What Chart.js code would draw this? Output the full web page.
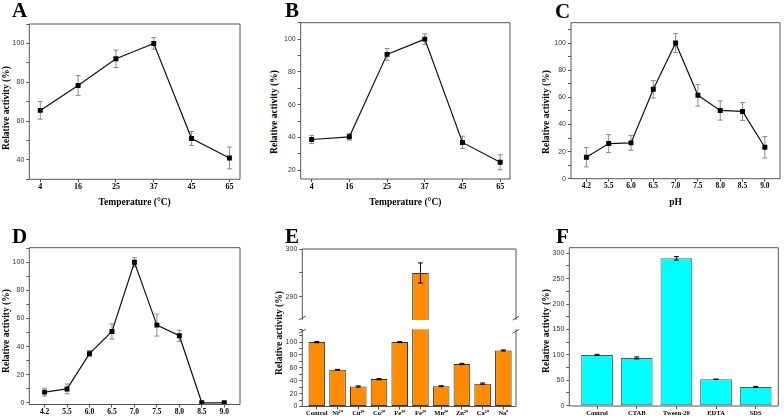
<!DOCTYPE html>
<html>
<head>
<meta charset="utf-8">
<script src="https://cdn.jsdelivr.net/npm/chart.js@4.4.0/dist/chart.umd.min.js"></script>
<style>
    html, body { margin: 0; padding: 0; background: #fff; overflow: hidden; }
    #page { position: relative; width: 784px; height: 419px; }
    canvas { position: absolute; }
    .tag { position: absolute; font: bold 21px "Liberation Serif", serif; line-height: 20px; color: #000; }
    .ytitle { position: absolute; font: bold 9.5px "Liberation Serif", serif; white-space: nowrap; color: #000;
              transform: translate(-50%, -50%) rotate(-90deg); }
</style>
</head>
<body>
<div id="page">
    <canvas id="chart-a"></canvas>
    <canvas id="chart-b"></canvas>
    <canvas id="chart-c"></canvas>
    <canvas id="chart-d"></canvas>
    <canvas id="chart-e-top"></canvas>
    <canvas id="chart-e"></canvas>
    <canvas id="chart-f"></canvas>

    <div class="tag" style="left:12px; top:0px;">A</div>
    <div class="tag" style="left:285px; top:0px;">B</div>
    <div class="tag" style="left:555px; top:1px;">C</div>
    <div class="tag" style="left:12px; top:226px;">D</div>
    <div class="tag" style="left:285px; top:226px;">E</div>
    <div class="tag" style="left:556px; top:226px;">F</div>

    <div class="ytitle" style="left:6px; top:108px;">Relative activity (%)</div>
    <div class="ytitle" style="left:274px; top:112px;">Relative activity (%)</div>
    <div class="ytitle" style="left:546px; top:112px;">Relative activity (%)</div>
    <div class="ytitle" style="left:6px; top:331px;">Relative activity (%)</div>
    <div class="ytitle" style="left:279px; top:333px;">Relative activity (%)</div>
    <div class="ytitle" style="left:546px; top:331px;">Relative activity (%)</div>
</div>

<script>
// A - temperature
const tempLabels = ['4', '16', '25', '37', '45', '65'];
const tempActivity = [65.5, 78.3, 92.1, 100, 51, 41];
const tempActivityErr = [4.5, 5.1, 4.5, 3, 3.6, 5.6];
// B - temperature stability
const tempStability = [38.8, 40.4, 90.7, 100, 37, 24.9];
const tempStabilityErr = [2.5, 2, 3.6, 3.2, 3.8, 4.6];
// C - pH
const phLabels = ['4.2', '5.5', '6.0', '6.5', '7.0', '7.5', '8.0', '8.5', '9.0'];
const phActivity = [15.8, 25.9, 26.4, 65.9, 100, 61.5, 50.3, 49.6, 23.2];
const phActivityErr = [7.1, 6.6, 5.5, 6.4, 7, 8, 7.1, 6.6, 7.9];
// D - pH stability
const phStability = [7.6, 9.9, 35, 50.8, 100, 55.3, 47.7, 0, 0];
const phStabilityErr = [2.8, 3.5, 2.2, 5.4, 3.3, 7.8, 4, 0.5, 0.5];
// E - metal ions
const ionLabels = ['Control', 'Ni²⁺', 'Cu²⁺', 'Co²⁺', 'Fe³⁺', 'Fe²⁺', 'Mn²⁺', 'Zn²⁺', 'Ca²⁺', 'Na⁺'];
const ionActivity = [100, 57, 31, 42.5, 100, 295, 31.5, 66, 35.5, 87];
const ionErr = [1, 0.6, 1, 1, 0.8, 2.1, 0.8, 1, 1, 0.8];
// F - surfactants / inhibitors
const agentLabels = ['Control', 'CTAB', 'Tween-20', 'EDTA', 'SDS'];
const agentActivity = [100, 94, 290, 52, 37];
const agentErr = [1.2, 2, 3.5, 0.5, 1];

// y tick labels
const ticksA = [40, 60, 80, 100];
const ticksB = [20, 40, 60, 80, 100];
const ticksPH = [0, 20, 40, 60, 80, 100];
const ticksETop = [290, 300];
const ticksE = [0, 20, 40, 60, 80, 100];
const ticksF = [0, 50, 100, 150, 200, 250, 300];

const SERIF = '"Liberation Serif", "Times New Roman", serif';
const SANS = '"Liberation Sans", Arial, sans-serif';
const AXIS = '#555';

// outline around the plot area (Origin style box)
const framePlugin = {
    id: 'frame',
    afterDraw(chart, args, o) {
        const { ctx, chartArea: a } = chart;
        const sides = o.sides || 'tlbr';
        ctx.save();
        ctx.strokeStyle = AXIS;
        ctx.lineWidth = 1;
        ctx.beginPath();
        if (sides.includes('t')) { ctx.moveTo(a.left, a.top); ctx.lineTo(a.right, a.top); }
        if (sides.includes('b')) { ctx.moveTo(a.left, a.bottom); ctx.lineTo(a.right, a.bottom); }
        if (sides.includes('l')) { ctx.moveTo(a.left, a.top); ctx.lineTo(a.left, a.bottom); }
        if (sides.includes('r')) { ctx.moveTo(a.right, a.top); ctx.lineTo(a.right, a.bottom); }
        ctx.stroke();
        if (o.breakAt) {
            const y = o.breakAt === 'bottom' ? a.bottom - 2 : a.top + 2;
            ctx.beginPath();
            [a.left, a.right].forEach(x => {
                ctx.moveTo(x - 3.5, y + 2);
                ctx.lineTo(x + 3.5, y - 2);
            });
            ctx.stroke();
        }
        ctx.restore();
    }
};

function drawErrors(chart, o) {
    const { ctx, chartArea: a, scales: { y } } = chart;
    chart.data.datasets.forEach((ds, di) => {
        if (!ds.errors) return;
        const meta = chart.getDatasetMeta(di);
        ctx.save();
        ctx.beginPath();
        ctx.rect(a.left, a.top - 1, a.right - a.left, a.bottom - a.top + 2);
        ctx.clip();
        ctx.strokeStyle = o.color;
        ctx.lineWidth = 1;
        meta.data.forEach((el, i) => {
            const v = ds.data[i].y;
            const e = ds.errors[i];
            const y1 = y.getPixelForValue(v + e);
            const y2 = y.getPixelForValue(v - e);
            ctx.beginPath();
            ctx.moveTo(el.x, y1); ctx.lineTo(el.x, y2);
            ctx.moveTo(el.x - o.cap, y1); ctx.lineTo(el.x + o.cap, y1);
            ctx.moveTo(el.x - o.cap, y2); ctx.lineTo(el.x + o.cap, y2);
            ctx.stroke();
        });
        ctx.restore();
    });
}

const errorBarPlugin = {
    id: 'errorBars',
    beforeDatasetsDraw(chart, args, o) { if (!o.over) drawErrors(chart, o); },
    afterDatasetsDraw(chart, args, o) { if (o.over) drawErrors(chart, o); }
};

// size a canvas so that its plot area lands on box
function place(id, box, ext, xShow) {
    const c = document.getElementById(id);
    const left = Math.floor(box.l - ext.l);
    const top = Math.floor(box.t - ext.t);
    const right = Math.ceil(box.r + ext.r);
    const bottom = Math.ceil(box.b + ext.b);
    c.width = right - left;
    c.height = bottom - top;
    c.style.left = left + 'px';
    c.style.top = top + 'px';
    return {
        ctx: c.getContext('2d'),
        yW: box.l - left,
        xH: bottom - box.b,
        pad: { top: box.t - top, right: right - box.r, bottom: xShow === false ? bottom - box.b : 0, left: 0 }
    };
}

// minor ticks every step inside the axis range, labels only on the listed values
function stepTicks(min, max, step) {
    const out = [];
    for (let v = Math.ceil(min / step) * step; v <= max + 1e-9; v += step) {
        out.push({ value: Math.round(v * 1000) / 1000 });
    }
    return out;
}

function buildScales(fit, cfg) {
    return {
        x: {
            type: 'linear', bounds: 'data', offset: false,
            min: cfg.xMin, max: cfg.xMax,
            display: cfg.xShow !== false,
            afterBuildTicks: s => { s.ticks = cfg.labels.map((_, i) => ({ value: i })); },
            afterFit: s => { s.height = fit.xH; },
            grid: { offset: false, drawOnChartArea: false, tickLength: 3, color: AXIS },
            border: { display: false },
            ticks: {
                padding: 0, autoSkip: false, maxRotation: 0, color: '#000',
                font: { family: SERIF, weight: 'bold', size: cfg.xFont },
                callback: v => cfg.labels[v]
            },
            title: {
                display: !!cfg.xTitle, text: cfg.xTitle, padding: 0, color: '#000',
                font: { family: SERIF, weight: 'bold', size: 9.5 }
            }
        },
        y: {
            type: 'linear', bounds: 'data', beginAtZero: false,
            min: cfg.yMin, max: cfg.yMax,
            afterBuildTicks: s => { s.ticks = stepTicks(cfg.yMin, cfg.yMax, cfg.yStep); },
            afterFit: s => { s.width = fit.yW; },
            grid: { drawOnChartArea: false, tickLength: 3, color: AXIS },
            border: { display: false },
            ticks: {
                autoSkip: false, padding: 2, color: '#333',
                font: { family: SANS, size: 7 },
                callback: v => cfg.yTicks.includes(v) ? v : ''
            }
        }
    };
}

function lineChart(id, box, ext, cfg) {
    const fit = place(id, box, ext, cfg.xShow);
    return new Chart(fit.ctx, {
        type: 'line',
        data: {
            datasets: [{
                data: cfg.values.map((y, x) => ({ x, y })),
                errors: cfg.errors,
                borderColor: '#111',
                borderWidth: 1.2,
                tension: 0,
                pointStyle: 'rect',
                pointRadius: 3.5,
                pointBorderWidth: 0,
                pointBackgroundColor: '#000'
            }]
        },
        options: {
            responsive: false,
            animation: false,
            devicePixelRatio: 1,
            layout: { padding: fit.pad },
            plugins: {
                legend: { display: false },
                tooltip: { enabled: false },
                errorBars: { color: '#8a8a8a', cap: 2.5, over: false },
                frame: {}
            },
            scales: buildScales(fit, cfg)
        },
        plugins: [errorBarPlugin, framePlugin]
    });
}

function barChart(id, box, ext, cfg) {
    const fit = place(id, box, ext, cfg.xShow);
    return new Chart(fit.ctx, {
        type: 'bar',
        data: {
            datasets: [{
                data: cfg.values.map((y, x) => ({ x, y })),
                errors: cfg.errors,
                backgroundColor: cfg.color,
                borderColor: cfg.edge,
                borderWidth: 1,
                borderSkipped: false,
                barPercentage: 0.8,
                categoryPercentage: 1
            }]
        },
        options: {
            responsive: false,
            animation: false,
            devicePixelRatio: 1,
            layout: { padding: fit.pad },
            plugins: {
                legend: { display: false },
                tooltip: { enabled: false },
                errorBars: { color: '#000', cap: 2.5, over: true },
                frame: { sides: cfg.sides, breakAt: cfg.breakAt }
            },
            scales: buildScales(fit, cfg)
        },
        plugins: [errorBarPlugin, framePlugin]
    });
}

lineChart('chart-a', { l: 29.3, t: 24, r: 240.7, b: 179.3 }, { l: 20, t: 8, r: 3, b: 28.7 }, {
    labels: tempLabels, values: tempActivity, errors: tempActivityErr,
    xMin: -0.29, xMax: 5.28, yMin: 30, yMax: 110, yStep: 10, yTicks: ticksA,
    xFont: 8, xTitle: 'Temperature (°C)'
});

lineChart('chart-b', { l: 300.7, t: 22.7, r: 510.7, b: 179 }, { l: 20, t: 8, r: 3, b: 29 }, {
    labels: tempLabels, values: tempStability, errors: tempStabilityErr,
    xMin: -0.29, xMax: 5.26, yMin: 14.7, yMax: 110, yStep: 10, yTicks: ticksB,
    xFont: 8, xTitle: 'Temperature (°C)'
});

lineChart('chart-c', { l: 571, t: 22.7, r: 782.7, b: 178.7 }, { l: 20, t: 8, r: 1.3, b: 29 }, {
    labels: phLabels, values: phActivity, errors: phActivityErr,
    xMin: -0.69, xMax: 8.68, yMin: 0, yMax: 115, yStep: 10, yTicks: ticksPH,
    xFont: 7.5, xTitle: 'pH'
});

lineChart('chart-d', { l: 29.3, t: 247.7, r: 240.7, b: 404.5 }, { l: 20, t: 8, r: 3, b: 16 }, {
    labels: phLabels, values: phStability, errors: phStabilityErr,
    xMin: -0.68, xMax: 8.7, yMin: -1.2, yMax: 110.4, yStep: 10, yTicks: ticksPH,
    xFont: 7.5
});

// E is split in two stacked charts to show the broken y axis
barChart('chart-e-top', { l: 302.3, t: 249, r: 516, b: 326 }, { l: 20, t: 8, r: 3, b: 6 }, {
    labels: ionLabels, values: ionActivity, errors: ionErr,
    xMin: -0.7, xMax: 9.61, yMin: 285.2, yMax: 300, yStep: 5, yTicks: ticksETop,
    xShow: false, color: '#ff8c00', edge: '#333', sides: 'tlr', breakAt: 'bottom'
});

barChart('chart-e', { l: 302.3, t: 329, r: 516, b: 406.5 }, { l: 20, t: 6, r: 3, b: 14 }, {
    labels: ionLabels, values: ionActivity, errors: ionErr,
    xMin: -0.7, xMax: 9.61, yMin: 0, yMax: 120, yStep: 10, yTicks: ticksE,
    xFont: 6.5, color: '#ff8c00', edge: '#333', sides: 'lbr', breakAt: 'top'
});

barChart('chart-f', { l: 569.3, t: 247.7, r: 778.3, b: 406 }, { l: 20, t: 8, r: 3, b: 14 }, {
    labels: agentLabels, values: agentActivity, errors: agentErr,
    xMin: -0.7, xMax: 4.57, yMin: -0.6, yMax: 311, yStep: 25, yTicks: ticksF,
    xFont: 6.5, color: '#00ffff', edge: '#555'
});
</script>
</body>
</html>
